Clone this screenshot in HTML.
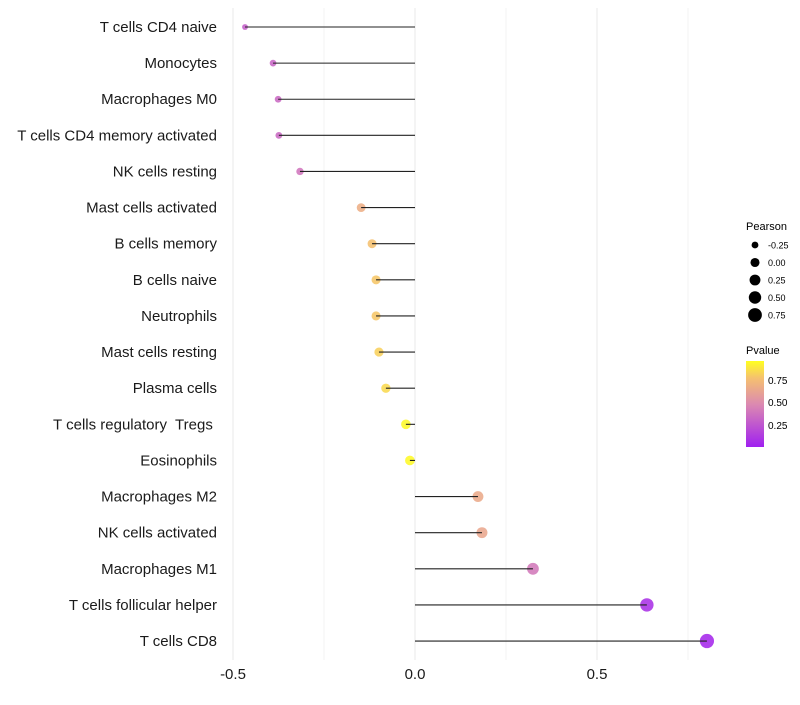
<!DOCTYPE html>
<html><head><meta charset="utf-8"><style>
body{margin:0;background:#fff;font-family:"Liberation Sans",Arial,sans-serif}
</style></head><body>
<svg id="chart" width="800" height="700" xmlns="http://www.w3.org/2000/svg">
<defs><linearGradient id="pg" x1="0" y1="1" x2="0" y2="0">
<stop offset="0" stop-color="#a020f0"/><stop offset="0.5" stop-color="#dc8ab0"/><stop offset="0.8" stop-color="#f5c070"/><stop offset="1" stop-color="#ffff20"/></linearGradient></defs>
<g id="grid"></g>
<g id="marks"></g>
<g id="labels"></g>
<g id="xticks"></g>
<g font-size="10">
<text x="746" y="230" font-size="11">Pearson</text>
<g id="sizeleg"></g>
</g>
<g font-size="10">
<text x="746" y="354" font-size="11">Pvalue</text>
<rect x="746" y="361" width="18" height="86" fill="url(#pg)"/>
<text x="768" y="384">0.75</text><text x="768" y="406">0.50</text><text x="768" y="429">0.25</text>
</g>
</svg>
<script>
const cells=["T cells CD4 naive","Monocytes","Macrophages M0","T cells CD4 memory activated","NK cells resting","Mast cells activated","B cells memory","B cells naive","Neutrophils","Mast cells resting","Plasma cells","T cells regulatory  Tregs\u00a0","Eosinophils","Macrophages M2","NK cells activated","Macrophages M1","T cells follicular helper","T cells CD8"];
const pearson=[-0.467,-0.39,-0.376,-0.374,-0.316,-0.148,-0.118,-0.107,-0.107,-0.099,-0.08,-0.025,-0.014,0.173,0.184,0.324,0.637,0.802];
const pvalue=[0.3,0.33,0.35,0.35,0.4,0.7,0.8,0.82,0.82,0.85,0.88,0.98,0.98,0.68,0.66,0.42,0.08,0.04];
const xTicks=[-0.5,0,0.5];
const sizeLegend=[-0.25,0,0.25,0.5,0.75];
const NS="http://www.w3.org/2000/svg";
const x=v=>415+v*364;
const y=i=>27+i*36.12;
const r=v=>Math.sqrt(Math.max(4,24+33*v));
const rl=v=>Math.sqrt(Math.max(3,20.6+35.5*v));
function lerp(a,b,t){return a.map((c,k)=>Math.round(c+(b[k]-c)*t));}
function col(p){const st=[[0,[160,32,240]],[0.5,[220,138,176]],[0.8,[245,192,112]],[1,[255,255,32]]];
for(let k=1;k<st.length;k++){if(p<=st[k][0]){const t=(p-st[k-1][0])/(st[k][0]-st[k-1][0]);const c=lerp(st[k-1][1],st[k][1],t);return `rgb(${c})`;}}return "rgb(255,255,32)";}
function mk(tag,at,par){const e=document.createElementNS(NS,tag);for(const k in at)e.setAttribute(k,at[k]);document.getElementById(par).appendChild(e);return e;}
[-0.5,-0.25,0,0.25,0.5,0.75].forEach(v=>{const l=mk("line",{x1:x(v),x2:x(v),y1:8,y2:660,stroke:"#ebebeb","stroke-width":v*4%2==0?1.1:0.6},"grid");

});
cells.forEach((c,i)=>{
const d=mk("circle",{cx:x(pearson[i]),cy:y(i),r:r(pearson[i]),fill:col(pvalue[i]),"fill-opacity":0.88},"marks");


const l=mk("line",{x1:x(0),x2:x(pearson[i]),y1:y(i),y2:y(i),stroke:"#222","stroke-width":1.1},"marks");


const t=mk("text",{x:217,y:y(i)+5,"text-anchor":"end","font-size":15,fill:"#1a1a1a","xml:space":"preserve",style:"white-space:pre"},"labels");t.textContent=c;


});
xTicks.forEach(v=>{const t=mk("text",{x:x(v),y:679,"text-anchor":"middle","font-size":15,fill:"#1a1a1a"},"xticks");t.textContent=v===0?"0.0":v.toFixed(1);

});
sizeLegend.forEach((v,i)=>{const cy=245+i*17.5;
const c=mk("circle",{cx:755,cy:cy,r:rl(v),fill:"#000"},"sizeleg");


const t=mk("text",{x:768,y:cy+3.5,"font-size":9},"sizeleg");t.textContent=v.toFixed(2);

});
</script>
</body></html>
